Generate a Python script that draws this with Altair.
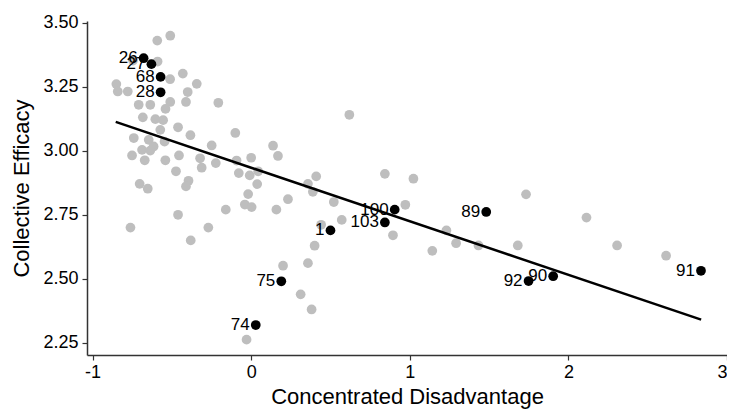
import altair as alt
import pandas as pd

# Gray (unlabelled) neighbourhoods
gray_x = [-0.510, -0.592, -0.745, -0.590, -0.431, -0.511, -0.850, -0.343, -0.841, -0.778,
          -0.400, -0.510, -0.411, -0.207, -0.709, -0.636, -0.540, -0.683, -0.604, -0.555,
          0.619, -0.461, -0.573, -0.100, -0.383, -0.740, -0.646, -0.546, -0.249, 0.138,
          -0.615, -0.688, -0.636, -0.751, -0.455, -0.322, 0.000, 0.169, -0.671, -0.541,
          -0.092, -0.223, -0.312, 0.044, -0.474, -0.078, -0.009, 0.410, 0.843, 1.023,
          -0.395, -0.703, 0.038, 0.358, -0.411, -0.652, 0.389, -0.019, 1.733, 0.232,
          0.521, -0.040, 0.003, 0.972, -0.160, 0.159, -0.461, 2.114, 0.571, 0.441,
          -0.761, -0.270, 1.231, 0.894, -0.381, 1.292, 1.433, 1.681, 2.307, 0.400,
          1.142, 2.616, 0.358, 0.201, 0.312, 0.381, -0.029]
gray_y = [3.450, 3.431, 3.353, 3.349, 3.302, 3.280, 3.261, 3.262, 3.232, 3.232,
          3.230, 3.191, 3.191, 3.188, 3.180, 3.180, 3.164, 3.131, 3.124, 3.120,
          3.141, 3.092, 3.082, 3.070, 3.061, 3.050, 3.043, 3.036, 3.021, 3.020,
          3.017, 3.004, 3.001, 2.982, 2.982, 2.971, 2.973, 2.980, 2.963, 2.963,
          2.962, 2.952, 2.934, 2.920, 2.920, 2.913, 2.904, 2.900, 2.910, 2.891,
          2.883, 2.871, 2.870, 2.871, 2.861, 2.852, 2.840, 2.831, 2.830, 2.811,
          2.800, 2.790, 2.780, 2.789, 2.770, 2.770, 2.750, 2.739, 2.730, 2.711,
          2.700, 2.700, 2.689, 2.670, 2.650, 2.639, 2.630, 2.630, 2.630, 2.629,
          2.609, 2.590, 2.561, 2.551, 2.439, 2.380, 2.262]

# Highlighted (labelled) neighbourhoods
hl_id = ["26", "27", "68", "28", "1", "100", "103", "89", "75", "74", "92", "90", "91"]
hl_x = [-0.678, -0.629, -0.571, -0.571, 0.500, 0.905, 0.843, 1.482, 0.190, 0.029, 1.749, 1.904, 2.836]
hl_y = [3.362, 3.339, 3.289, 3.229, 2.689, 2.770, 2.720, 2.761, 2.490, 2.319, 2.491, 2.510, 2.531]

# Fitted regression line
fit_x = [-0.854, 2.837]
fit_y = [3.113, 2.340]

x_ticks = [-1, 0, 1, 2, 3]
y_ticks = [2.25, 2.50, 2.75, 3.00, 3.25, 3.50]

gray_df = pd.DataFrame({"x": gray_x, "y": gray_y})
hl_df = pd.DataFrame({"x": hl_x, "y": hl_y, "id": hl_id})
fit_df = pd.DataFrame({"x": fit_x, "y": fit_y})

FONT = "Liberation Sans"

xs = alt.Scale(domain=[-1.035, 3.0], nice=False, zero=False)
ys = alt.Scale(domain=[2.2019, 3.5076], nice=False, zero=False)

x_axis = alt.Axis(values=x_ticks, labelExpr="'' + datum.value", grid=False,
                  title="Concentrated Disadvantage")
y_axis = alt.Axis(values=y_ticks, format=".2f", grid=False, title="Collective Efficacy")

X = alt.X("x:Q", scale=xs, axis=x_axis)
Y = alt.Y("y:Q", scale=ys, axis=y_axis)

gray = alt.Chart(gray_df).mark_circle(size=95, color="#BEBEBE", opacity=1).encode(x=X, y=Y)
line = alt.Chart(fit_df).mark_line(color="black", strokeWidth=2.5).encode(x=X, y=Y)
labels = alt.Chart(hl_df).mark_text(align="right", baseline="middle", dx=-6, fontSize=17,
                                    font=FONT, color="black").encode(x=X, y=Y, text="id:N")
black = alt.Chart(hl_df).mark_circle(size=95, color="black", opacity=1).encode(x=X, y=Y)

chart = (
    alt.layer(gray, line, labels, black)
    .properties(width=640, height=334,
                autosize=alt.AutoSizeParams(type="none"),
                padding={"left": 79, "top": 13, "right": 0, "bottom": 57})
    .configure_view(stroke=None)
    .configure_axis(
        labelFont=FONT, titleFont=FONT, labelFontSize=18, titleFontSize=22,
        titleFontWeight="normal", labelColor="black", titleColor="black",
        domainColor="#333333", domainWidth=1.5, tickColor="#333333", tickWidth=1.2,
        tickSize=5, labelPadding=3,
    )
    .configure_axisX(titlePadding=5)
    .configure_axisY(titlePadding=9, labelPadding=4)
)

chart.save("out.html", embed_options={"renderer": "svg", "actions": False})
